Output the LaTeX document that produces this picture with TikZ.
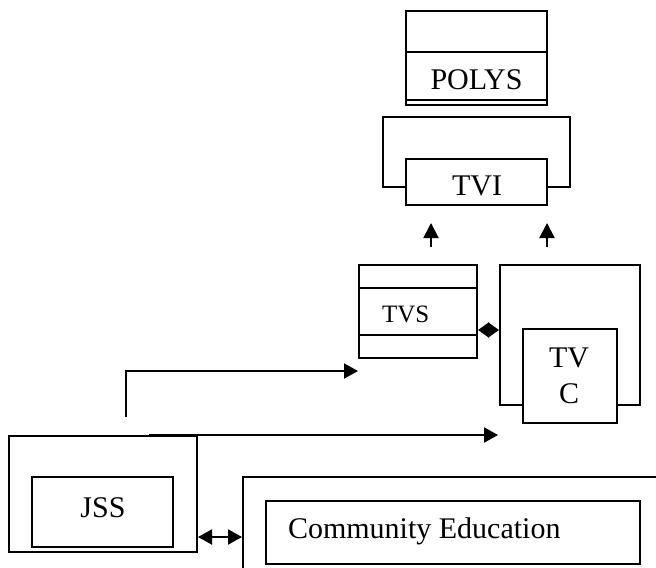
\documentclass[tikz,border=0pt]{standalone}
\usepackage{fontspec}
\setmainfont{Liberation Serif}
\usetikzlibrary{arrows.meta,fit,calc}

\begin{document}
\begin{tikzpicture}[x=0.5pt,y=-0.5pt,line width=1pt,
    >={Triangle[length=7pt,width=7.5pt]},
    box node/.style={rectangle,draw,inner sep=0pt,line width=1pt},
    inner box/.style={box node,fill=white},
    big text/.style={font=\fontsize{15}{18}\selectfont,anchor=base,inner sep=0pt},
    small text/.style={font=\fontsize{12.5}{15}\selectfont,anchor=base west,inner sep=0pt},
    small tip/.style={>={Triangle[length=5.5pt,width=7.5pt]}},
    up tip/.style={>={Triangle[length=7.5pt,width=7.5pt]}}]

    \clip (0,0) rectangle (656,567);

    \node[box node, fit={(406,11) (547,105)}] (PolysOuter) {};
    \node[box node, fit={(406,52) (547,100)}] (Polys) {};
    \node[big text] (PolysText) at (476.5,90) {POLYS};

    \node[box node, fit={(383,117) (570,187)}] (TviOuter) {};
    \node[inner box, fit={(406,159) (547,205)}] (Tvi) {};
    \node[big text] (TviText) at (477,195) {TVI};

    \node[box node, fit={(359,265) (477,358)}] (TvsOuter) {};
    \node[box node, fit={(359,288) (477,335)}] (Tvs) {};
    \node[small text] (TvsText) at (381,322) {TVS};

    \node[box node, fit={(500,265) (640,405)}] (TvcOuter) {};
    \node[inner box, fit={(523,329) (617,423)}] (Tvc) {};
    \node[big text] (TvcTextA) at (569,367) {TV};
    \node[big text] (TvcTextB) at (569,403) {C};

    \node[box node, fit={(9,436) (197,552)}] (JssOuter) {};
    \node[box node, fit={(32,477) (173,547)}] (Jss) {};
    \node[big text] (JssText) at (103,517) {JSS};

    \node[box node, fit={(243,477) (700,620)}] (CommunityOuter) {};
    \node[box node, fit={(266,501) (640,564)}] (Community) {};
    \node[big text, anchor=base west] (CommunityText) at (287,538) {Community Education};

    % free ends of the connectors
    \coordinate (TviLeftFoot) at (431,247);
    \coordinate (TviLeftTip) at (431,223);
    \coordinate (TviRightFoot) at (547,247);
    \coordinate (TviRightTip) at (547,223);
    \coordinate (JssUp) at (126,417);
    \coordinate (TvsIn) at (358,371);
    \coordinate (JssTop) at (149,435);
    \coordinate (TvcIn) at (498,435);

    \draw[->, up tip] (TviLeftFoot) -- (TviLeftTip);
    \draw[->, up tip] (TviRightFoot) -- (TviRightTip);
    \draw[->] (JssUp) |- (TvsIn);
    \draw[->] (JssTop) -- (TvcIn);
    \draw[<->, small tip] (TvsOuter.east |- 0,330) -- (TvcOuter.west |- 0,330);
    \draw[<->] (JssOuter.east |- 0,537) -- (CommunityOuter.west |- 0,537);
\end{tikzpicture}
\end{document}
